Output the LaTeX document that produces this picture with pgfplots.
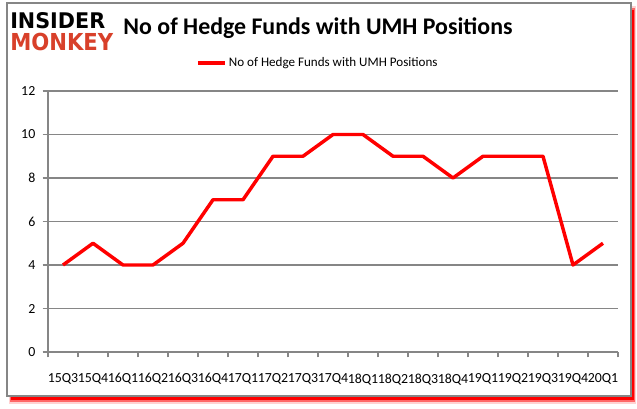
\documentclass[border=0pt]{standalone}
\usepackage{pgfplots}
\pgfplotsset{compat=1.18}
\usepackage{fontspec}
\setmainfont{Carlito}
\newfontfamily\logofont{DejaVu Sans}
\definecolor{imred}{HTML}{D8402A}
\definecolor{gridgray}{HTML}{868686}
\definecolor{linered}{HTML}{FF0000}
\begin{document}
\begin{tikzpicture}[x=0.75pt,y=-0.75pt]
\useasboundingbox (0,0) rectangle (637,408);
% shadow
\fill[red!70,opacity=0.25] (9,6) rectangle (636,404);
\fill[red,opacity=0.5] (10,8) rectangle (635,402);
\fill[red] (11,10) rectangle (634,400);
% frame
\draw[fill=white,draw=gridgray,line width=0.9pt] (7,3) rectangle (631,396);
% logo
\node[anchor=north west,inner sep=0pt] at (10,12) {\resizebox{71.25pt}{12pt}{\logofont\bfseries INSIDER}};
\node[anchor=north west,inner sep=0pt,text=imred] at (10,33) {\resizebox{77.25pt}{13pt}{\logofont\bfseries MONKEY}};
% title
\node[anchor=center,inner sep=0pt] at (318,28) {\fontsize{17.9}{20}\selectfont\bfseries No of Hedge Funds with UMH Positions};
\begin{axis}[
  at={(36pt,-264pt)}, anchor=south west,
  scale only axis, width=427.5pt, height=195.75pt,
  xmin=-0.5, xmax=18.5, ymin=0, ymax=12,
  axis x line=bottom, axis y line=left,
  axis line style={draw=gridgray,line width=0.8pt,-},
  xtick={0,...,18},
  xticklabels={15Q3,15Q4,16Q1,16Q2,16Q3,16Q4,17Q1,17Q2,17Q3,17Q4,18Q1,18Q2,18Q3,18Q4,19Q1,19Q2,19Q3,19Q4,20Q1},
  major x tick style={draw=none},
  minor xtick={-0.5,0.5,...,18.5},
  minor x tick style={draw=gridgray,line width=0.8pt},
  minor tick length=4pt,
  ytick={0,2,...,12},
  major y tick style={draw=gridgray,line width=0.8pt},
  major tick length=4pt,
  tick align=outside,
  ymajorgrids,
  grid style={draw=gridgray,line width=0.8pt},
  xticklabel style={font=\fontsize{10.4}{12}\selectfont, inner sep=0pt, yshift=-12pt},
  yticklabel style={font=\fontsize{10.4}{12}\selectfont, xshift=-2pt},
  /pgf/number format/assume math mode=true,
  legend style={at={(0.474,1.108)}, anchor=center, draw=none, fill=none,
    font=\fontsize{9.8}{11}\selectfont, inner sep=0pt},
  legend image code/.code={\draw[#1] (0pt,0pt) -- (20pt,0pt);},
  clip=false,
]
\addplot[color=linered, line width=2.6pt, line join=round] coordinates {
(0,4) (1,5) (2,4) (3,4) (4,5) (5,7) (6,7) (7,9) (8,9) (9,10) (10,10) (11,9) (12,9) (13,8) (14,9) (15,9) (16,9) (17,4) (18,5)};
\addlegendentry{No of Hedge Funds with UMH Positions}
\end{axis}
\end{tikzpicture}
\end{document}
